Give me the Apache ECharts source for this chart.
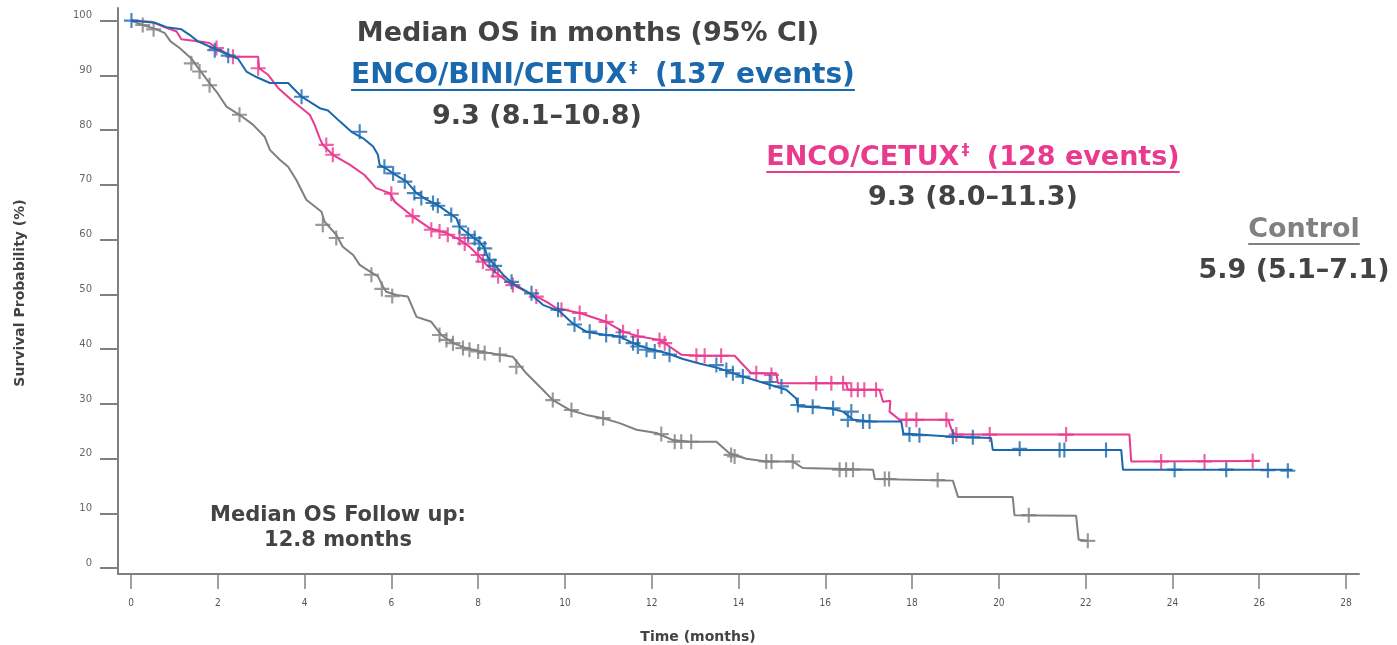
<!DOCTYPE html>
<html>
<head>
<meta charset="utf-8">
<script src="https://cdn.jsdelivr.net/npm/echarts@6/dist/echarts.min.js"></script>
<style>
  html, body { margin: 0; padding: 0; background: #ffffff; }
  #chart { width: 1397px; height: 645px; }
</style>
</head>
<body>
<div id="chart"></div>
<script>
// Axis ticks
const monthTicks = [0, 2, 4, 6, 8, 10, 12, 14, 16, 18, 20, 22, 24, 26, 28];
const survivalTicks = [0, 10, 20, 30, 40, 50, 60, 70, 80, 90, 100];

// Kaplan-Meier estimates: [time (months), survival probability (%)]
const controlCurve = [
  [0, 100], [0.27, 99.2], [0.59, 98.4], [0.78, 97.7], [0.91, 96.2], [1.12, 95.0],
  [1.39, 93.1], [1.58, 91.0], [1.81, 88.6], [2.0, 86.7], [2.2, 84.3], [2.5, 82.8],
  [2.81, 81.0], [3.08, 78.8], [3.2, 76.4], [3.43, 74.6], [3.62, 73.3], [3.81, 70.9],
  [4.04, 67.3], [4.39, 65.1], [4.46, 63.3], [4.73, 60.9], [4.88, 58.7], [5.12, 57.2],
  [5.27, 55.4], [5.5, 54.2], [5.69, 53.3], [5.81, 51.4], [5.88, 50.5], [6.12, 49.9],
  [6.38, 49.6], [6.58, 45.9], [6.92, 45.0], [7.15, 42.6], [7.42, 41.1], [7.73, 40.2],
  [8.03, 39.6], [8.5, 39.0], [8.8, 38.6], [9.11, 35.6], [9.49, 32.6], [9.72, 30.7],
  [10.11, 28.9], [10.49, 28.0], [10.88, 27.4], [11.26, 26.5], [11.65, 25.3], [12.11, 24.7],
  [12.49, 23.4], [12.87, 23.1], [13.49, 23.1], [13.79, 21.0], [14.18, 20.0], [14.64, 19.5],
  [15.25, 19.5], [15.48, 18.3], [17.10, 18.0], [17.14, 16.3], [18.94, 16.0], [19.06, 13.0],
  [20.32, 13.0], [20.36, 9.7], [21.78, 9.6], [21.84, 5.2], [22.05, 5.0]
];
const controlCensored = [
  [0.27, 99.2], [0.52, 98.4], [1.39, 92.2], [1.58, 90.7], [1.81, 88.2], [2.5, 82.8],
  [4.42, 62.7], [4.73, 60.3], [5.54, 53.6], [5.78, 51.0], [6.02, 49.7], [7.11, 42.6],
  [7.27, 41.7], [7.42, 41.1], [7.65, 40.2], [7.8, 39.9], [8.0, 39.6], [8.15, 39.3],
  [8.5, 39.0], [8.88, 36.8], [9.72, 30.7], [10.15, 28.9], [10.88, 27.4], [12.22, 24.5],
  [12.53, 23.1], [12.68, 23.1], [12.91, 23.1], [13.83, 20.7], [13.91, 20.4], [14.64, 19.5],
  [14.76, 19.5], [15.25, 19.5], [16.33, 18.0], [16.48, 18.0], [16.64, 18.0], [17.37, 16.3],
  [17.47, 16.3], [18.59, 16.1], [20.69, 9.7], [22.05, 5.0]
];

const encoBiniCetuxCurve = [
  [0, 100], [0.55, 99.6], [0.82, 98.8], [1.16, 98.4], [1.35, 97.4], [1.54, 96.2],
  [1.89, 95.0], [2.2, 93.9], [2.47, 93.0], [2.66, 90.7], [2.89, 89.7], [3.2, 88.6],
  [3.62, 88.6], [3.93, 86.1], [4.35, 84.0], [4.54, 83.6], [4.81, 81.6], [5.08, 79.7],
  [5.35, 78.5], [5.58, 77.0], [5.69, 75.5], [5.73, 73.6], [5.88, 73.0], [6.04, 72.1],
  [6.35, 70.6], [6.58, 68.5], [6.81, 67.3], [7.07, 66.3], [7.34, 64.8], [7.5, 63.9],
  [7.57, 62.4], [7.8, 60.9], [8.03, 59.6], [8.15, 58.4], [8.23, 56.6], [8.38, 55.4],
  [8.61, 53.3], [8.8, 52.0], [9.19, 50.2], [9.49, 48.1], [9.88, 46.9], [10.18, 44.7],
  [10.49, 43.2], [10.95, 42.6], [11.26, 42.3], [11.57, 41.1], [11.88, 40.2], [12.34, 39.3],
  [12.72, 38.2], [13.1, 37.4], [13.56, 36.5], [14.1, 35.0], [14.72, 33.5], [15.1, 32.6],
  [15.33, 31.0], [15.37, 29.6], [16.1, 29.2], [16.41, 28.6], [16.64, 27.1], [17.1, 26.8],
  [17.75, 26.8], [17.8, 24.6], [18.94, 24.0], [19.82, 23.8], [19.86, 21.6], [22.82, 21.6],
  [22.86, 18.0], [26.77, 18.0]
];
const encoBiniCetuxCensored = [
  [0.01, 100], [1.93, 94.6], [2.24, 93.6], [3.93, 86.1], [5.27, 79.7], [5.84, 73.3],
  [6.04, 72.1], [6.31, 70.6], [6.53, 68.5], [6.69, 67.6], [6.96, 66.7], [7.07, 66.2],
  [7.38, 64.5], [7.57, 62.4], [7.77, 60.9], [7.92, 60.3], [8.03, 59.3], [8.15, 58.4],
  [8.26, 56.3], [8.38, 55.2], [8.77, 52.3], [9.23, 50.2], [9.84, 47.2], [10.22, 44.5],
  [10.57, 43.2], [10.95, 42.6], [11.26, 42.3], [11.57, 41.1], [11.68, 40.5], [11.88, 39.9],
  [12.07, 39.6], [12.41, 39.0], [13.49, 37.1], [13.72, 36.2], [13.87, 35.6], [14.1, 35.0],
  [14.72, 34.0], [14.99, 33.2], [15.37, 29.8], [15.71, 29.5], [16.18, 29.2], [16.6, 28.6],
  [16.52, 27.1], [16.87, 26.8], [17.02, 26.8], [17.94, 24.4], [18.17, 24.3], [18.94, 24.0],
  [19.4, 23.9], [20.48, 21.8], [21.4, 21.6], [21.51, 21.6], [22.47, 21.6], [24.05, 18.0],
  [25.24, 18.0], [26.2, 17.9], [26.66, 17.8]
];

const encoCetuxCurve = [
  [0, 100], [0.47, 99.8], [0.74, 98.9], [1.05, 98.0], [1.16, 96.6], [1.58, 96.2],
  [1.81, 95.9], [1.97, 95.0], [2.35, 93.4], [2.93, 93.4], [2.95, 91.3], [3.16, 90.1],
  [3.39, 87.7], [3.7, 85.5], [4.12, 82.8], [4.23, 81.0], [4.35, 78.5], [4.42, 77.3],
  [4.65, 75.5], [5.04, 73.7], [5.38, 71.8], [5.65, 69.4], [5.96, 68.5], [6.08, 66.9],
  [6.5, 64.2], [6.88, 62.1], [7.27, 61.2], [7.57, 60.0], [7.8, 58.7], [8.03, 56.9],
  [8.19, 55.4], [8.42, 53.9], [8.73, 52.0], [9.19, 50.2], [9.57, 48.7], [9.8, 47.5],
  [10.34, 46.6], [10.95, 45.0], [11.34, 43.2], [11.72, 42.3], [12.18, 41.7], [12.41, 40.5],
  [12.68, 39.0], [13.1, 38.8], [13.91, 38.8], [14.29, 35.6], [14.87, 35.6], [14.91, 33.8],
  [16.48, 33.8], [16.52, 32.6], [17.25, 32.6], [17.33, 30.4], [17.5, 30.6], [17.48, 28.6],
  [17.71, 27.1], [18.83, 27.1], [18.94, 24.7], [19.06, 24.4], [23.01, 24.4], [23.05, 19.5],
  [26.01, 19.6]
];
const encoCetuxCensored = [
  [1.97, 95.0], [2.35, 93.4], [2.93, 91.3], [4.5, 77.3], [4.65, 75.5], [6.0, 68.4],
  [6.49, 64.3], [6.92, 61.8], [7.11, 61.5], [7.3, 60.9], [7.57, 60.3], [7.69, 59.3],
  [8.0, 57.2], [8.11, 56.0], [8.34, 54.5], [8.46, 53.3], [8.8, 51.7], [9.34, 49.6],
  [9.92, 47.2], [10.34, 46.6], [10.95, 45.0], [11.34, 43.1], [11.68, 42.3], [12.18, 41.7],
  [12.3, 41.1], [13.03, 38.8], [13.22, 38.8], [13.6, 38.8], [14.41, 35.6], [14.76, 35.3],
  [15.79, 33.8], [16.14, 33.8], [16.41, 33.8], [16.6, 32.6], [16.75, 32.6], [16.9, 32.6],
  [17.17, 32.6], [17.87, 27.1], [18.1, 27.1], [18.79, 27.1], [19.02, 24.4], [19.79, 24.4],
  [21.55, 24.4], [23.74, 19.5], [24.74, 19.5], [25.85, 19.6]
];

const BLUE = '#1a68ad';
const PINK = '#e93a8e';
const GRAY = '#808080';
const DARK = '#434343';
const AXIS = '#808080';
const FONT = '"DejaVu Sans", Verdana, sans-serif';

// Censor mark: a filled plus sign
const CROSS = 'path://M6,0h2v6h6v2h-6v6h-2v-6h-6v-2h6z';

const measureCtx = document.createElement('canvas').getContext('2d');
function textWidth(str, size) {
  measureCtx.font = 'bold ' + size + 'px ' + FONT;
  return measureCtx.measureText(str).width;
}

function plainText(str, cx, cy, size, color) {
  return {
    type: 'text', x: cx, y: cy, z: 10,
    style: { text: str, fontSize: size, fontWeight: 'bold', fontFamily: FONT,
             fill: color, align: 'center', verticalAlign: 'middle' }
  };
}

// Underlined arm heading with a small raised double dagger
function armHeading(name, events, cx, cy, color, big) {
  const small = 16, padL = 2, padR = 8;
  const w = textWidth(name, big) + textWidth('\u2021', small) + padL + padR + textWidth(events, big);
  return [
    {
      type: 'text', x: cx, y: cy, z: 10,
      style: {
        text: '{m|' + name + '}{s|\u2021}{m|' + events + '}',
        align: 'center', verticalAlign: 'middle',
        rich: {
          m: { fontSize: big, fontWeight: 'bold', fontFamily: FONT, fill: color, lineHeight: 30 },
          s: { fontSize: small, fontWeight: 'bold', fontFamily: FONT, fill: color,
               verticalAlign: 'top', lineHeight: 30, padding: [0, padR, 12, padL] }
        }
      }
    },
    { type: 'rect', z: 10, shape: { x: cx - w / 2, y: cy + 13, width: w, height: 2 }, style: { fill: color } }
  ];
}

function underlined(str, cx, cy, size, color) {
  const w = textWidth(str, size);
  return [
    plainText(str, cx, cy, size, color),
    { type: 'rect', z: 10, shape: { x: cx - w / 2, y: cy + 13, width: w, height: 2 }, style: { fill: color } }
  ];
}

const graphics = [].concat(
  [plainText('Median OS in months (95% CI)', 588, 34, 27, DARK)],
  armHeading('ENCO/BINI/CETUX', ' (137 events)', 603, 76, BLUE, 28),
  [plainText('9.3 (8.1\u201310.8)', 537, 117, 27, DARK)],
  armHeading('ENCO/CETUX', ' (128 events)', 973, 158, PINK, 27),
  [plainText('9.3 (8.0\u201311.3)', 973, 198, 27, DARK)],
  underlined('Control', 1304, 230, 27, GRAY),
  [plainText('5.9 (5.1\u20137.1)', 1294, 271, 27, DARK)],
  [plainText('Median OS Follow up:', 338, 516, 21, DARK)],
  [plainText('12.8 months', 338, 541, 21, DARK)],
  [
    {
      type: 'text', x: 20, y: 293, rotation: Math.PI / 2, z: 10,
      style: { text: 'Survival Probability (%)', fontSize: 14, fontWeight: 'bold', fontFamily: FONT,
               fill: DARK, align: 'center', verticalAlign: 'middle' }
    },
    {
      type: 'text', x: 698, y: 637, z: 10,
      style: { text: 'Time (months)', fontSize: 14, fontWeight: 'bold', fontFamily: FONT,
               fill: DARK, align: 'center', verticalAlign: 'middle' }
    }
  ]
);

function curve(data, color, z) {
  return { type: 'line', data: data, showSymbol: false, smooth: false, z: z,
           lineStyle: { color: color, width: 2 }, itemStyle: { color: color },
           silent: true, animation: false };
}
function censors(data, color, z) {
  return { type: 'scatter', data: data, symbol: CROSS, symbolSize: 15, z: z,
           itemStyle: { color: color }, silent: true, animation: false };
}

const chart = echarts.init(document.getElementById('chart'), null, { renderer: 'canvas' });
chart.setOption({
  animation: false,
  backgroundColor: '#ffffff',
  grid: { left: 118, right: 38, top: 8, bottom: 71, containLabel: false, outerBoundsMode: 'none' },
  xAxis: {
    type: 'value', min: -0.3, max: 28.3,
    axisLine: { show: true, onZero: false, lineStyle: { color: AXIS, width: 2 } },
    axisTick: { show: true, customValues: monthTicks, length: 15, lineStyle: { color: AXIS, width: 1.5 } },
    axisLabel: { customValues: monthTicks, margin: 24, fontSize: 10, color: '#555555',
                 fontFamily: '"DejaVu Sans Condensed", "Liberation Sans Narrow", "DejaVu Sans", sans-serif' },
    splitLine: { show: false }
  },
  yAxis: {
    type: 'value', min: -1.05, max: 102.3,
    axisLine: { show: true, onZero: false, lineStyle: { color: AXIS, width: 2 } },
    axisTick: { show: true, customValues: survivalTicks, length: 18, lineStyle: { color: AXIS, width: 2 } },
    axisLabel: { customValues: survivalTicks, margin: 26, fontSize: 10, color: '#666666',
                 fontFamily: FONT, verticalAlign: 'bottom', lineHeight: 10 },
    splitLine: { show: false }
  },
  series: [
    curve(controlCurve, GRAY, 2),
    censors(controlCensored, GRAY, 3),
    curve(encoCetuxCurve, PINK, 4),
    censors(encoCetuxCensored, PINK, 5),
    curve(encoBiniCetuxCurve, BLUE, 6),
    censors(encoBiniCetuxCensored, BLUE, 7)
  ],
  graphic: graphics
});
</script>
</body>
</html>
